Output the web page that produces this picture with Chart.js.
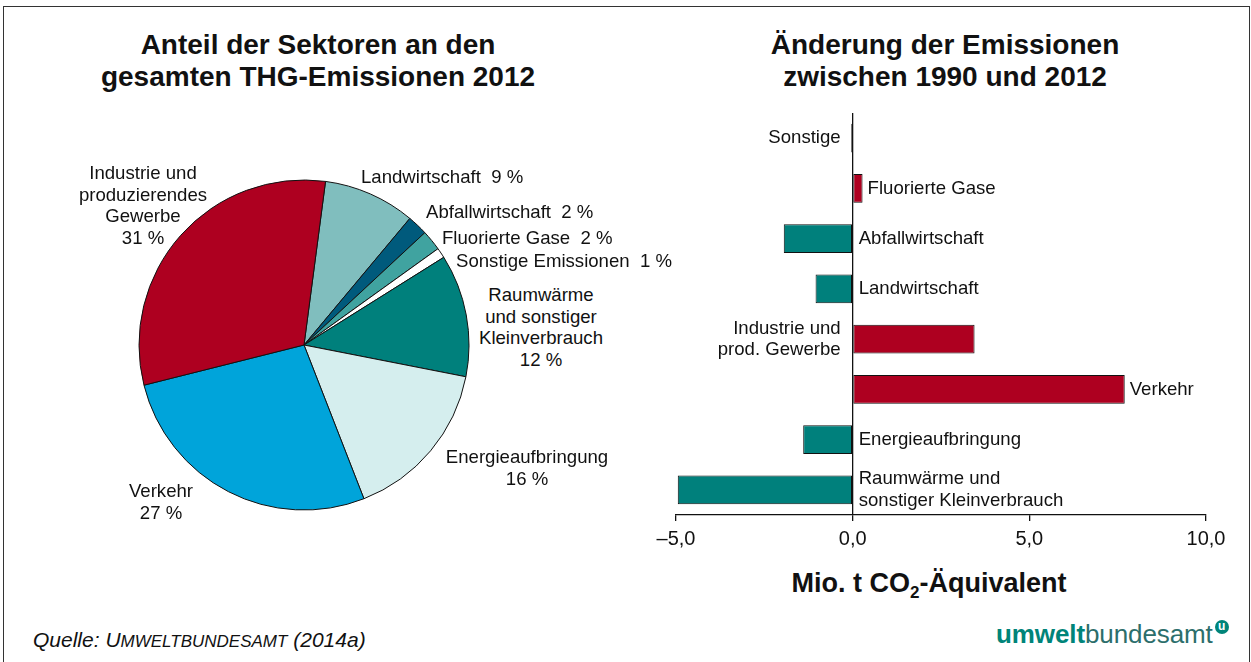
<!DOCTYPE html>
<html lang="de">
<head>
<meta charset="utf-8">
<title>THG-Emissionen nach Sektoren 2012</title>
<script src="https://cdn.jsdelivr.net/npm/chart.js@4.4.1/dist/chart.umd.min.js"></script>
<style>
    body { margin: 0; width: 1251px; height: 662px; position: relative; overflow: hidden; background: #fff;
           font-family: "Liberation Sans", Arial, sans-serif; color: #111; }
    #frame { position: absolute; left: 3px; top: 6px; width: 1245px; height: 700px; border: 1px solid #333; }
    .title { position: absolute; font-weight: bold; font-size: 28px; line-height: 32px; text-align: center; width: 600px; }
    .plabel { position: absolute; font-size: 18.6px; line-height: 21.5px; white-space: pre; }
    .plabel.c { text-align: center; transform: translateX(-50%); }
    #pieWrap { position: absolute; left: 137px; top: 178px; width: 334px; height: 334px; }
    #barWrap { position: absolute; left: 620px; top: 100px; width: 631px; height: 455px; }
    #axisTitle { position: absolute; left: 729px; width: 400px; top: 568px; text-align: center; font-weight: bold; font-size: 27px; }
    #axisTitle sub { font-size: 17px; vertical-align: -6px; line-height: 0; }
    #source { position: absolute; left: 33px; top: 628px; font-size: 21px; font-style: italic; }
    #source span { font-size: 17px; text-transform: uppercase; }
    #source span:first-letter { font-size: 21px; }
    #logo { position: absolute; left: 996px; top: 619px; font-size: 26px; color: #008479; letter-spacing: -0.1px; }
    #logo .b { color: #2c6e6b; }
    #logo .u { display: inline-block; width: 14px; height: 14px; border-radius: 50%; background: #008479; color: #fff;
               font-size: 12px; font-weight: bold; line-height: 12px; text-align: center; vertical-align: 13px; margin-left: 2px; }
</style>
</head>
<body>
<div id="frame"></div>

<div class="title" style="left:18px; top:29px;">Anteil der Sektoren an den<br>gesamten THG-Emissionen 2012</div>
<div class="title" style="left:645px; top:29px;">Änderung der Emissionen<br>zwischen 1990 und 2012</div>

<div id="pieWrap"><canvas id="pieChart"></canvas></div>
<div id="pieLabels"></div>

<div id="barWrap"><canvas id="barChart"></canvas></div>
<div id="axisTitle">Mio. t CO<sub>2</sub>-Äquivalent</div>

<div id="source">Quelle: <span style="display:inline-block">Umweltbundesamt</span> (2014a)</div>
<div id="logo"><b>umwelt</b><span class="b">bundesamt</span><span class="u">u</span></div>

<script>
// left chart: share of sectors 2012 (%), clockwise from the top
const pieSectors = [
    ['Landwirtschaft'],
    ['Abfallwirtschaft'],
    ['Fluorierte Gase'],
    ['Sonstige Emissionen'],
    ['Raumwärme', 'und sonstiger', 'Kleinverbrauch'],
    ['Energieaufbringung'],
    ['Verkehr'],
    ['Industrie und', 'produzierendes', 'Gewerbe']
];
const pieShares = [9, 2, 2, 1, 12, 16, 27, 31];
const pieColors = ['#80bebe', '#005a7c', '#40a3a0', '#ffffff', '#00807c', '#d5eeee', '#00a4da', '#ae0020'];

// right chart: change 1990 -> 2012 (Mio. t CO2-Äquivalent)
const barCategories = [
    ['Sonstige'],
    ['Fluorierte Gase'],
    ['Abfallwirtschaft'],
    ['Landwirtschaft'],
    ['Industrie und', 'prod. Gewerbe'],
    ['Verkehr'],
    ['Energieaufbringung'],
    ['Raumwärme und', 'sonstiger Kleinverbrauch']
];
const barChanges = [-0.04, 0.28, -1.95, -1.05, 3.45, 7.7, -1.4, -4.95];
const xTickLabels = ['–5,0', '0,0', '5,0', '10,0'];

const FONT = '"Liberation Sans", Arial, sans-serif';

// pie labels: where each one sits, and whether the percentage goes on its own line
const pieLabelLayout = [
    { x: 361, y: 177, inline: true },
    { x: 426, y: 212, inline: true },
    { x: 442, y: 238, inline: true },
    { x: 456, y: 261, inline: true },
    { x: 541, y: 295, center: true },
    { x: 527, y: 457, center: true },
    { x: 161, y: 491, center: true },
    { x: 143, y: 173, center: true }
];

function renderPieLabels() {
    const box = document.getElementById('pieLabels');
    pieSectors.forEach((lines, i) => {
        const pos = pieLabelLayout[i];
        const div = document.createElement('div');
        div.className = 'plabel' + (pos.center ? ' c' : '');
        const pct = `${pieShares[i]} %`;
        div.textContent = pos.inline ? `${lines.join(' ')}  ${pct}` : [...lines, pct].join('\n');
        div.style.left = pos.x + 'px';
        div.style.top = (pos.y - 10.75) + 'px';
        box.appendChild(div);
    });
}

new Chart(document.getElementById('pieChart'), {
    type: 'pie',
    data: {
        labels: pieSectors.map(l => l.join(' ')),
        datasets: [{
            data: pieShares,
            backgroundColor: pieColors,
            borderColor: '#111',
            borderWidth: 1,
            radius: 165
        }]
    },
    options: {
        responsive: true,
        maintainAspectRatio: false,
        animation: false,
        rotation: 7.5,
        layout: { padding: 0 },
        plugins: { legend: { display: false }, tooltip: { enabled: false } }
    }
});

// which side of the zero line a bar label goes: left of zero, right of zero, or after the bar end
const barLabelSide = ['left', 'end', 'right', 'right', 'left', 'end', 'right', 'right'];

const barLabelPlugin = {
    id: 'barLabels',
    afterDatasetsDraw(chart) {
        const { ctx, scales: { x, y } } = chart;
        const x0 = x.getPixelForValue(0);
        ctx.save();
        ctx.font = `18.6px ${FONT}`;
        ctx.fillStyle = '#111';
        ctx.textBaseline = 'middle';
        barCategories.forEach((lines, i) => {
            const yc = y.getPixelForValue(i);
            const side = barLabelSide[i];
            let tx;
            if (side === 'left') {
                ctx.textAlign = 'right';
                tx = x0 - 12;
            } else if (side === 'end') {
                ctx.textAlign = 'left';
                tx = x.getPixelForValue(barChanges[i]) + 5;
            } else {
                ctx.textAlign = 'left';
                tx = x0 + 6;
            }
            const lh = 21.5;
            lines.forEach((line, k) => {
                ctx.fillText(line, tx, yc + (k - (lines.length - 1) / 2) * lh);
            });
        });
        ctx.restore();
    }
};

new Chart(document.getElementById('barChart'), {
    type: 'bar',
    data: {
        labels: barCategories.map(l => l.join(' ')),
        datasets: [{
            data: barChanges,
            backgroundColor: barChanges.map(v => v > 0 ? '#ae0020' : '#00807c'),
            borderColor: '#111',
            borderWidth: 1,
            borderSkipped: false,
            categoryPercentage: 1,
            barPercentage: 0.57
        }]
    },
    options: {
        indexAxis: 'y',
        responsive: true,
        maintainAspectRatio: false,
        animation: false,
        layout: { padding: { left: 56, right: 45, top: 13, bottom: 0 } },
        plugins: { legend: { display: false }, tooltip: { enabled: false } },
        scales: {
            y: { display: false },
            x: {
                min: -5,
                max: 10,
                afterFit(scale) { scale.height = 40; },
                border: { display: true, color: '#111', width: 1.3 },
                grid: {
                    color: ctx => (ctx.tick && ctx.tick.value === 0) ? '#111' : 'rgba(0,0,0,0)',
                    lineWidth: 1.3,
                    tickColor: '#111',
                    tickLength: 6,
                    drawOnChartArea: true
                },
                ticks: {
                    stepSize: 5,
                    padding: 6,
                    color: '#111',
                    font: { family: FONT, size: 20 },
                    callback: (value, index) => xTickLabels[index]
                }
            }
        }
    },
    plugins: [barLabelPlugin]
});

renderPieLabels();
</script>
</body>
</html>
